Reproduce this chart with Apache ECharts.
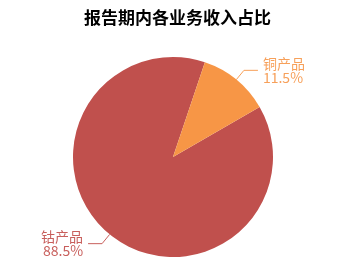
<!DOCTYPE html>
<html>
<head>
<meta charset="utf-8">
<script src="https://cdn.jsdelivr.net/npm/echarts@6/dist/echarts.min.js"></script>
<style>
  html, body { margin: 0; padding: 0; background: #fff; }
  #chart { width: 355px; height: 272px; }
</style>
</head>
<body>
<div id="chart"></div>
<script>
// Revenue share by business line during the reporting period
const categories = ['钴产品', '铜产品'];
const shares = [88.5, 11.5];
const sliceColors = ['#c0504d', '#f79646'];
const labelColors = ['#c85f5c', '#f7a05a'];

const chart = echarts.init(document.getElementById('chart'));
chart.setOption({
  animation: false,
  title: {
    text: '报告期内各业务收入占比',
    left: 'center',
    top: 4,
    textStyle: { fontSize: 17, fontWeight: 'bold', color: '#000', fontFamily: 'Noto Sans CJK SC' }
  },
  series: [{
    type: 'pie',
    center: [173, 157],
    radius: 100,
    startAngle: 30,
    data: categories.map((name, i) => ({
      name,
      value: shares[i],
      itemStyle: { color: sliceColors[i] },
      label: { color: labelColors[i] },
      labelLine: { lineStyle: { color: labelColors[i] } }
    })),
    label: {
      formatter: p => p.name + '\n' + p.value.toFixed(1) + '%',
      fontSize: 14,
      lineHeight: 14,
      fontFamily: 'Noto Sans CJK SC'
    },
    labelLine: { length: 12, length2: 14 }
  }]
});
</script>
</body>
</html>
